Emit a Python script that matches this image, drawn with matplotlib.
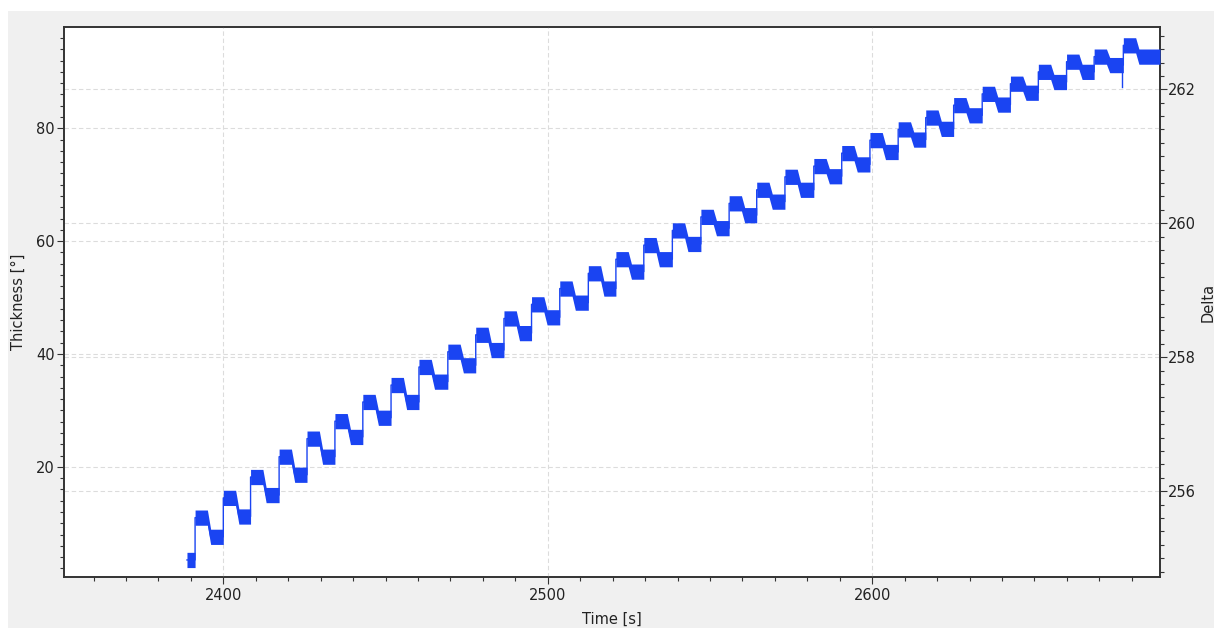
import numpy as np
import matplotlib.pyplot as plt
from matplotlib.patches import Rectangle
from matplotlib.ticker import MultipleLocator

# thickness trace: one short start piece,
# then a jump to a high plateau and a settle to a lower one, per cycle
start_t = 2388.8
start_level = 3.5
jump_t = [
    2391.3, 2400.0, 2408.4, 2417.2, 2425.8, 2434.4, 2443.0, 2451.7, 2460.3,
    2469.2, 2477.8, 2486.5, 2495.0, 2503.7, 2512.5, 2521.0, 2529.6, 2538.4,
    2547.2, 2555.9, 2564.4, 2573.1, 2582.0, 2590.6, 2599.3, 2608.0, 2616.5,
    2625.1, 2633.9, 2642.6, 2651.2, 2659.9, 2668.4, 2677.4,
]
high = [
    11.0, 14.5, 18.2, 21.8, 25.0, 28.1, 31.5, 34.5, 37.7,
    40.4, 43.4, 46.3, 48.8, 51.6, 54.3, 56.8, 59.3, 61.9,
    64.3, 66.7, 69.1, 71.4, 73.3, 75.6, 77.9, 79.8, 81.9,
    84.1, 86.1, 87.9, 90.0, 91.8, 92.7, 94.7,
]
low = [
    7.6, 11.2, 15.0, 18.6, 21.8, 25.3, 28.7, 31.5, 35.1,
    38.0, 40.7, 43.7, 46.5, 49.1, 51.6, 54.6, 56.8, 59.5,
    62.3, 64.6, 67.0, 69.1, 71.5, 73.6, 75.8, 78.0, 79.9,
    82.3, 84.2, 86.3, 88.2, 90.0, 91.2, 92.7,
]
end_t = 2688.7
glitch_t = 2677.0
glitch_v = 87.3
noise_half = 1.35  # half height of the noisy band, in thickness units
hold_s = 3.8       # time on the high plateau after each jump
ramp_s = 1.0       # time to settle down to the low plateau

x_ticks = [2400, 2500, 2600]
left_ticks = [20, 40, 60, 80]
right_ticks = [256, 258, 260, 262]

BLUE = "#1a44f2"
GRID = "#dcdcdc"
INK = "#333333"


def build_trace():
    t = [start_t, jump_t[0]]
    y = [start_level, start_level]
    for i, tj in enumerate(jump_t):
        t_next = jump_t[i + 1] if i + 1 < len(jump_t) else end_t
        t += [tj, tj + hold_s, tj + hold_s + ramp_s, t_next]
        y += [high[i], high[i], low[i], low[i]]
    return np.array(t), np.array(y)


t, y = build_trace()

fig = plt.figure(figsize=(12.14, 6.28), dpi=100, facecolor="white")
fig.patches.append(Rectangle((8 / 1214, 0), 1, 1 - 11 / 628, transform=fig.transFigure,
                             facecolor="#f0f0f0", edgecolor="none", zorder=-10))

ax = fig.add_axes([64 / 1214, 51 / 628, 1096 / 1214, 550 / 628])
ax2 = ax.twinx()
ax.set_zorder(ax2.get_zorder() + 1)
ax.patch.set_visible(False)
ax2.patch.set_visible(True)
ax2.patch.set_facecolor("white")

ax.fill_between(t, y - noise_half, y + noise_half, color=BLUE, lw=0, zorder=3)
ax.plot(t, y, color=BLUE, lw=1.0, zorder=4)
ax.plot([glitch_t, glitch_t], [low[-2], glitch_v], color=BLUE, lw=1.0, zorder=4)

ax.set_xlim(2350.9, 2688.7)
ax.set_ylim(0.48, 97.95)
ax2.set_ylim(254.72, 262.93)

ax.set_xticks(x_ticks)
ax.set_yticks(left_ticks)
ax2.set_yticks(right_ticks)
ax.xaxis.set_minor_locator(MultipleLocator(10))
ax.yaxis.set_minor_locator(MultipleLocator(2))
ax2.yaxis.set_minor_locator(MultipleLocator(0.2))

grid_kw = dict(color=GRID, lw=0.8, ls=(0, (4, 2.5)))
ax.set_axisbelow(True)
ax.grid(True, which="major", **grid_kw)
ax2.grid(True, which="major", axis="y", **grid_kw)

for a in (ax, ax2):
    a.tick_params(which="major", direction="out", length=5, width=0.8, color=INK,
                  labelsize=10.5, labelcolor="#222222", pad=1.5)
    a.tick_params(which="minor", direction="out", length=3, width=0.8, color=INK)
    for s in a.spines.values():
        s.set_color(INK)
        s.set_linewidth(1.2)
ax.tick_params(axis="x", which="major", pad=3)
ax2.tick_params(axis="y", which="major", pad=0.5)

ax.set_xlabel("Time [s]", fontsize=10.5, color="#222222", va="center")
ax.xaxis.set_label_coords(0.5, -0.0764)
ax.set_ylabel("Thickness [°]", fontsize=10.5, color="#222222", va="center", rotation=90)
ax.yaxis.set_label_coords(-0.042, 0.5)
ax2.set_ylabel("Delta", fontsize=10.5, color="#222222", va="center", rotation=90)
ax2.yaxis.set_label_coords(1.0438, 0.5)

fig.savefig("out.png", dpi=100, facecolor=fig.get_facecolor())
